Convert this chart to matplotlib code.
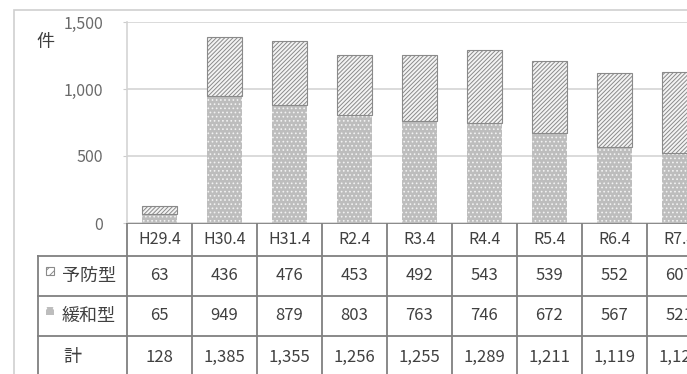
import numpy as np
import matplotlib.pyplot as plt
from matplotlib.patches import Rectangle

plt.rcParams['font.family'] = ['Noto Sans CJK JP', 'DejaVu Sans']
plt.rcParams['hatch.linewidth'] = 0.7

years = ['H29.4', 'H30.4', 'H31.4', 'R2.4', 'R3.4', 'R4.4', 'R5.4', 'R6.4', 'R7.4']
yobou = [63, 436, 476, 453, 492, 543, 539, 552, 607]   # 予防型
kanwa = [65, 949, 879, 803, 763, 746, 672, 567, 521]   # 緩和型
total = [128, 1385, 1355, 1256, 1255, 1289, 1211, 1119, 1128]
rows = ['予防型', '緩和型', '計']

W, H = 687, 374
col = 65      # px per category
x0 = 127      # px, left of plot area
n = len(years)
txt = '#404040'
line = '#808080'

fig = plt.figure(figsize=(W / 100, H / 100), dpi=100)
fig.patches.append(Rectangle((14 / W, -0.1), 1.0, (H - 10) / H + 0.1,
                             transform=fig.transFigure, fill=False,
                             edgecolor='#cfcfcf', lw=1.2))

# bars
ax = fig.add_axes([x0 / W, (H - 223) / H, n * col / W, (223 - 22) / H])
x = np.arange(n)
ax.bar(x, kanwa, width=0.54, color='#bdbdbd', edgecolor='#f2f2f2', hatch='....', lw=0, zorder=3)
ax.bar(x, yobou, bottom=kanwa, width=0.54, color='#f4f4f4', edgecolor='#8a8a8a',
       hatch='////////', lw=0.8, zorder=3)
ax.set_xlim(-0.5, n - 0.5)
ax.set_ylim(0, 1500)
ax.set_yticks([0, 500, 1000, 1500])
ax.set_yticklabels([f'{v:,}' for v in [0, 500, 1000, 1500]], fontsize=11.5, color='#6a6a6a')
ax.set_xticks([])
ax.tick_params(axis='y', length=3, color='#cccccc', pad=14)
ax.grid(axis='y', color='#d4d4d4', lw=1.2, zorder=0)
for s in ['top', 'right', 'bottom']:
    ax.spines[s].set_visible(False)
ax.spines['left'].set_color('#d4d4d4')
ax.spines['left'].set_linewidth(1.2)
fig.text(45 / W, 1 - 42 / H, '件', fontsize=13, color=txt, ha='center', va='center')

# data table under the bars
tab = fig.add_axes([37 / W, (H - 378) / H, (x0 + n * col - 37) / W, (378 - 223) / H])
left = -0.5 - (x0 - 37) / col
tab.set_xlim(left, n - 0.5)
tab.set_ylim(155, 0)
tab.axis('off')
bounds = [0, 33, 73, 113, 155]
for k in range(n + 1):
    tab.plot([k - 0.5, k - 0.5], [0, 155], color=line, lw=1.3)
tab.plot([left + 0.01, left + 0.01], [33, 155], color=line, lw=1.3)
tab.plot([-0.5, n - 0.5], [0, 0], color=line, lw=1.3)
for b in bounds[1:4]:
    tab.plot([left, n - 0.5], [b, b], color=line, lw=1.3)

for i, yr in enumerate(years):
    tab.text(i, 16.5, yr, ha='center', va='center', fontsize=11.5, color=txt)
    for r, vals in enumerate([yobou, kanwa, total]):
        yc = (bounds[r + 1] + bounds[r + 2]) / 2
        tab.text(i, yc, f'{vals[i]:,}', ha='center', va='center', fontsize=12, color=txt)

lx = lambda px: -0.5 + (px - x0) / col
tab.text(lx(89), 53, rows[0], ha='center', va='center', fontsize=13, color=txt)
tab.text(lx(89), 93, rows[1], ha='center', va='center', fontsize=13, color=txt)
tab.text(lx(72), 134, rows[2], ha='center', va='center', fontsize=13, color=txt)
tab.add_patch(Rectangle((lx(46), 43.5), 8 / col, 8, facecolor='white', edgecolor='#8a8a8a',
                        hatch='////', lw=0.8))
tab.add_patch(Rectangle((lx(46), 83.5), 8 / col, 8, facecolor='#bdbdbd', edgecolor='white',
                        hatch='..', lw=0))

fig.savefig('out.png', dpi=100)
